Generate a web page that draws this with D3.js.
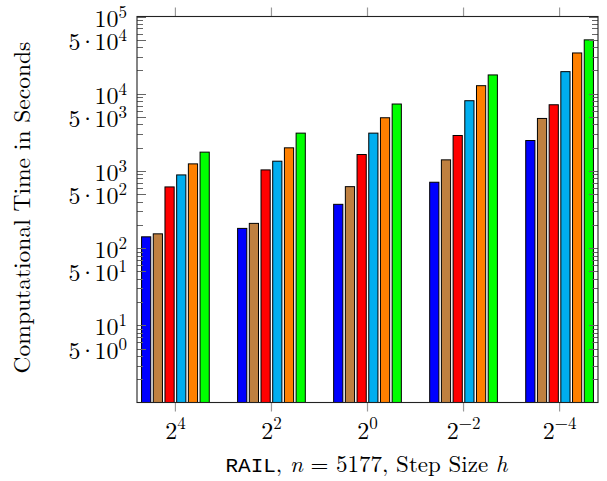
<!DOCTYPE html>
<html>
<head>
<meta charset="utf-8">
<script src="https://cdn.jsdelivr.net/npm/d3@7"></script>
<style>
  html, body { margin: 0; padding: 0; background: #fff; }
  svg { display: block; }
  text { font-family: "Latin Modern Roman", "CMU Serif", "Liberation Serif", serif; fill: #000; }
</style>
</head>
<body>
<svg id="chart" width="607" height="481"></svg>
<script>
// ---- data ----
const categories = ["4", "2", "0", "-2", "-4"];            // step size exponents h = 2^k
const seriesNames = ["s1", "s2", "s3", "s4", "s5", "s6"];
const seriesColors = ["#0000ff", "#bf8040", "#ff0000", "#00aeef", "#ff8000", "#00ff00"];
const s1 = [140, 180, 369, 713, 2475];
const s2 = [153, 209, 625, 1390, 4780];
const s3 = [620, 1030, 1630, 2875, 7190];
const s4 = [887, 1336, 3085, 8110, 19300];
const s5 = [1233, 1990, 4880, 12700, 33700];
const s6 = [1750, 3085, 7350, 17500, 49800];
const seriesValues = [s1, s2, s3, s4, s5, s6];
const yTickValues = [1e5, 5e4, 1e4, 5e3, 1e3, 5e2, 1e2, 5e1, 1e1, 5e0];
const yTickMantissa = ["", "5", "", "5", "", "5", "", "5", "", "5"];
const yTickExponent = ["5", "4", "4", "3", "3", "2", "2", "1", "1", "0"];
const yLabel = "Computational Time in Seconds";

// ---- layout ----
const L = 137, R = 598, T = 16.5, B = 402.5;
const svg = d3.select("#chart");

const x = d3.scaleLinear().domain([-0.4, categories.length - 0.6]).range([L, R]);
const inner = d3.scaleBand().domain(seriesNames).range([-33.85, 33.85]).paddingInner(0.214).paddingOuter(0);
const y = d3.scaleLog().domain([1, 1e5]).range([B, T]);

// bars
seriesNames.forEach((s, si) => {
  svg.append("g").selectAll("rect")
    .data(seriesValues[si])
    .join("rect")
    .attr("x", (d, i) => x(i) + inner(s))
    .attr("width", inner.bandwidth())
    .attr("y", d => y(d))
    .attr("height", d => B - y(d))
    .attr("fill", seriesColors[si])
    .attr("stroke", "#000")
    .attr("stroke-width", 1);
});

// minor y ticks (left & right, inward)
const minor = y.ticks().filter(v => yTickValues.indexOf(v) < 0 && v > 1 && v < 1e5);
const tickG = svg.append("g").attr("stroke", "#666").attr("stroke-width", 1);
minor.forEach(v => {
  const yy = Math.round(y(v)) + 0.5;
  tickG.append("line").attr("x1", L).attr("x2", L + 6).attr("y1", yy).attr("y2", yy);
  tickG.append("line").attr("x1", R - 6).attr("x2", R).attr("y1", yy).attr("y2", yy);
});
yTickValues.forEach(v => {
  const yy = Math.round(y(v)) + 0.5;
  tickG.append("line").attr("x1", L).attr("x2", L + 9).attr("y1", yy).attr("y2", yy);
  tickG.append("line").attr("x1", R - 9).attr("x2", R).attr("y1", yy).attr("y2", yy);
});

// x ticks (outside top & bottom)
const xt = svg.append("g").attr("stroke", "#999").attr("stroke-width", 1.2);
categories.forEach((c, i) => {
  const xx = x(i);
  xt.append("line").attr("x1", xx).attr("x2", xx).attr("y1", B).attr("y2", B + 9);
  xt.append("line").attr("x1", xx).attr("x2", xx).attr("y1", T - 9).attr("y2", T);
});

// frame
svg.append("rect").attr("x", L).attr("y", T).attr("width", R - L).attr("height", B - T)
  .attr("fill", "none").attr("stroke", "#222").attr("stroke-width", 1.1);

// measure the width of the middle dot in the label font
const probe = svg.append("text").attr("font-size", 24).text("\u00B7");
const dotW = probe.node().getComputedTextLength();
probe.remove();
const gap = 7;  // distance from digit edge to dot centre

// y tick labels
yTickValues.forEach((v, i) => {
  const by = y(v) + 10;
  const t = svg.append("text")
    .attr("x", 127).attr("y", by)
    .attr("text-anchor", "end").attr("font-size", 24);
  if (yTickMantissa[i]) {
    t.append("tspan").text(yTickMantissa[i]);
    t.append("tspan").attr("dx", gap - dotW / 2).text("\u00B7");
    t.append("tspan").attr("dx", gap - dotW / 2).text("10");
  } else {
    t.append("tspan").text("10");
  }
  t.append("tspan").attr("font-size", 17).attr("dy", -9).text(yTickExponent[i]);
});

// x tick labels
categories.forEach((c, i) => {
  const t = svg.append("text")
    .attr("x", x(i)).attr("y", 439)
    .attr("text-anchor", "middle").attr("font-size", 24);
  t.append("tspan").text("2");
  t.append("tspan").attr("font-size", 17).attr("dy", -10).text(c.replace("-", "\u2212"));
});

// x axis label
const xl = svg.append("text").attr("x", (L + R) / 2 - 1).attr("y", 472)
  .attr("text-anchor", "middle").attr("font-size", 23);
xl.append("tspan").attr("font-family", "'Liberation Mono', 'DejaVu Sans Mono', monospace").attr("font-size", 21).text("RAIL");
xl.append("tspan").text(", ");
xl.append("tspan").attr("font-style", "italic").text("n");
xl.append("tspan").text(" = 5177, Step Size ");
xl.append("tspan").attr("font-style", "italic").text("h");

// y axis label
svg.append("text")
  .attr("transform", `translate(30, ${(T + B) / 2 - 2}) rotate(-90)`)
  .attr("text-anchor", "middle").attr("font-size", 23.5)
  .text(yLabel);
</script>
</body>
</html>
